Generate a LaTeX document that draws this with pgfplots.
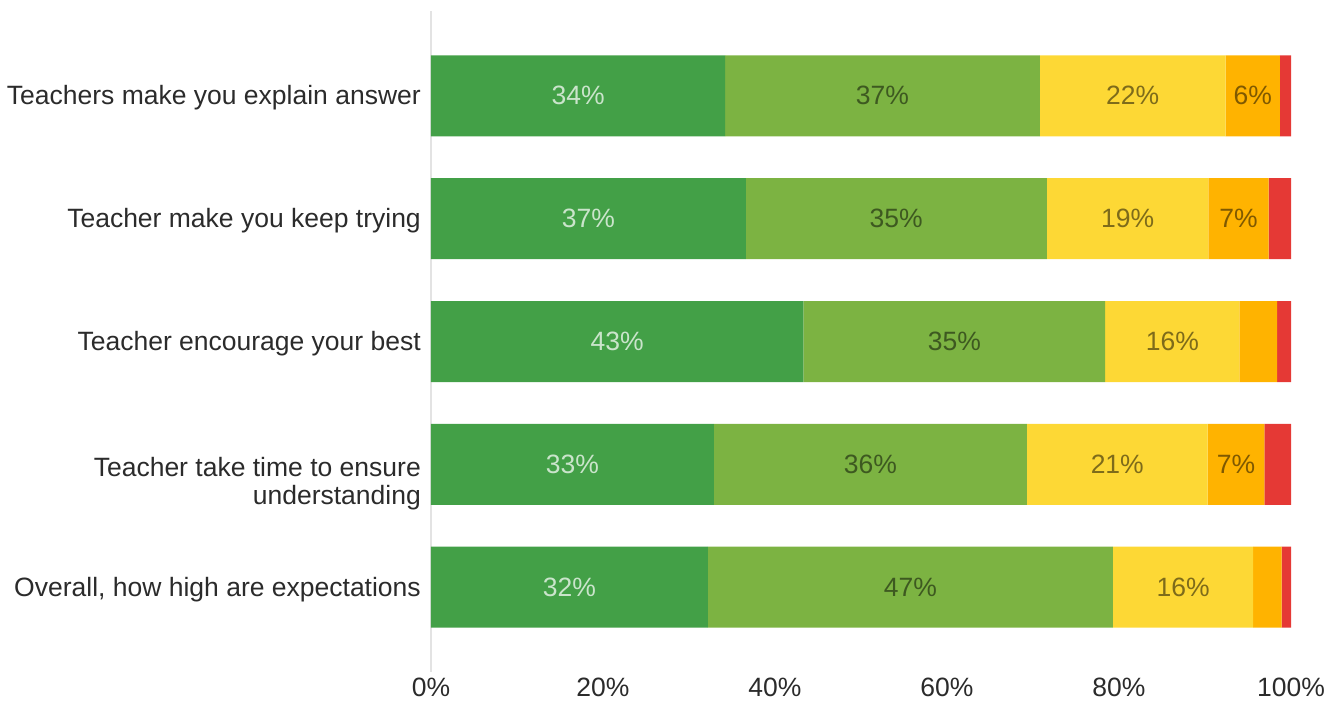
\documentclass[border=0pt]{standalone}
\usepackage{pgfplots}
\pgfplotsset{compat=1.18}
\usepackage{pgfplotstable}
\usepackage{fontspec}
\setmainfont{Liberation Sans}
\definecolor{cA}{HTML}{43A047}
\definecolor{cB}{HTML}{7CB342}
\definecolor{cC}{HTML}{FDD835}
\definecolor{cD}{HTML}{FFB300}
\definecolor{cE}{HTML}{E53935}
\definecolor{txt}{HTML}{2B2B2B}
\definecolor{axl}{HTML}{E3E3E3}
\pgfplotstableread{
y a b c d e
0 34.2 36.6 21.6 6.3 1.3
1 36.6 35.0 18.8 7.0 2.6
2 43.3 35.1 15.6 4.4 1.6
3 32.9 36.4 21.0 6.6 3.1
4 32.2 47.1 16.3 3.3 1.1
}\data
\pgfplotsset{
  lbl/.style={
    visualization depends on={rawx\as\rawx},
    nodes near coords={\ifdim\rawx pt<5pt\relax\else\pgfmathprintnumber[fixed,precision=0]{\rawx}\%\fi},
    nodes near coords style={anchor=center, #1},
  }
}
\begin{document}
\fontsize{26.5bp}{28.5bp}\selectfont
\begin{tikzpicture}
\begin{axis}[
  name=ax,
  scale only axis,
  width=860bp, height=661bp,
  xbar stacked,
  bar width=81bp,
  xmin=0, xmax=100,
  ymin=-0.69, ymax=4.69,
  enlargelimits=false,
  y dir=reverse,
  ytick={0,1,2,3,4},
  yticklabels={Teachers make you explain answer,Teacher make you keep trying,Teacher encourage your best,{\raisebox{0pt}[\height][0pt]{\begin{tabular}[t]{@{}r@{}}Teacher take time to ensure\\understanding\end{tabular}}},{Overall, how high are expectations}},
  yticklabel style={text=txt, inner sep=0pt, xshift=-10bp, yshift=-2bp},
  xtick={0,20,40,60,80,100},
  xticklabel={\pgfmathprintnumber{\tick}\%},
  xticklabel style={text=txt, inner sep=0pt, yshift=-6bp},
  /pgf/number format/assume math mode=true,
  major tick length=0pt,
  axis lines*=left,
  x axis line style={draw=none},
  y axis line style={draw=axl, line width=1.5bp},
  clip=false,
]
\addplot[fill=cA, draw=none, lbl={text=white, text opacity=0.72}] table[x=a, y=y]{\data};
\addplot[fill=cB, draw=none, lbl={text=black, text opacity=0.5}] table[x=b, y=y]{\data};
\addplot[fill=cC, draw=none, lbl={text=black, text opacity=0.5}] table[x=c, y=y]{\data};
\addplot[fill=cD, draw=none, lbl={text=black, text opacity=0.5}] table[x=d, y=y]{\data};
\addplot[fill=cE, draw=none, lbl={text=black, text opacity=0.5}] table[x=e, y=y]{\data};
\end{axis}
\pgfresetboundingbox
\path[use as bounding box] ([shift={(-431bp,-30bp)}]ax.south west) rectangle ([shift={(48bp,11bp)}]ax.north east);
\end{tikzpicture}
\end{document}
